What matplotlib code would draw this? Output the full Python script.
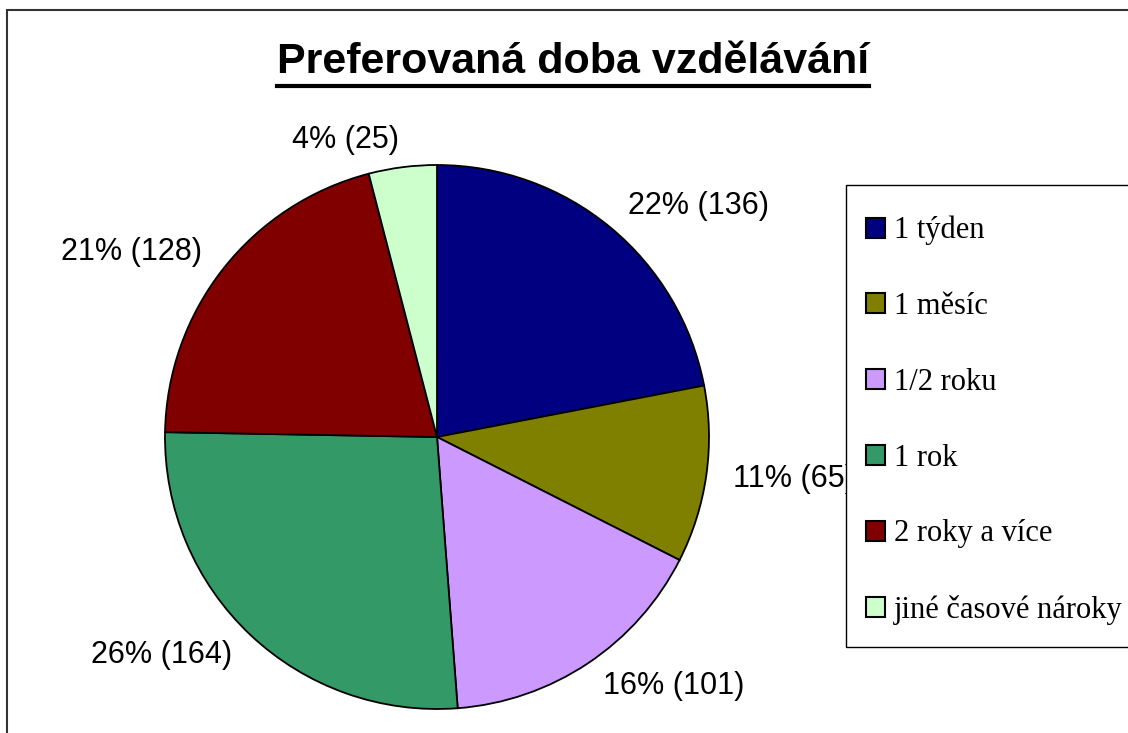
import matplotlib.pyplot as plt
from matplotlib.patches import Rectangle
from matplotlib.lines import Line2D

# Data
categories = ["1 týden", "1 měsíc", "1/2 roku", "1 rok", "2 roky a více", "jiné časové nároky"]
counts = [136, 65, 101, 164, 128, 25]
colors = ["#000080", "#808000", "#CC99FF", "#339966", "#800000", "#CCFFCC"]
title = "Preferovaná doba vzdělávání"

total = sum(counts)
labels = [f"{round(100 * c / total):.0f}% ({c})" for c in counts]

W, H = 1128, 733
fig = plt.figure(figsize=(W / 100, H / 100), dpi=100)
fig.patch.set_facecolor("white")

# outer chart frame (runs off the right and bottom edges)
fig.add_artist(Rectangle((7 / W, -0.05), 1.2, (H - 10) / H + 0.05,
                         transform=fig.transFigure, fill=False,
                         edgecolor="#333333", linewidth=1.5))

# pie axes: center (437, 437), radius 272 px
cx, cy, r = 437, H - 437, 272
ax = fig.add_axes([(cx - r) / W, (cy - r) / H, 2 * r / W, 2 * r / H])
wedges, texts = ax.pie(counts, labels=labels, colors=colors, startangle=90,
                       counterclock=False, labeldistance=1.1,
                       wedgeprops=dict(edgecolor="black", linewidth=1.3),
                       textprops=dict(fontsize=22, family="Liberation Sans",
                                      color="black"))
ax.set_xlim(-1, 1)
ax.set_ylim(-1, 1)
ax.set_aspect("equal")
ax.axis("off")
for t in texts:
    t.set_clip_on(False)

# title with underline
ttl = fig.text(573 / W, 1 - 62 / H, title, ha="center", va="center",
               fontsize=31, fontweight="bold", family="Liberation Sans")
fig.canvas.draw()
bb = ttl.get_window_extent(renderer=fig.canvas.get_renderer())
uy = (H - 86) / H
fig.add_artist(Line2D([bb.x0 / W, bb.x1 / W], [uy, uy], transform=fig.transFigure,
                      color="black", linewidth=3))

# legend box (runs off the right edge)
fig.add_artist(Rectangle((846 / W, (H - 647) / H), 0.5, (647 - 185) / H,
                         transform=fig.transFigure, facecolor="white",
                         edgecolor="black", linewidth=1.0, zorder=0.5))
leg = fig.legend(wedges, categories, loc="upper left",
                 bbox_to_anchor=(846 / W, 1 - 196 / H),
                 prop=dict(family="Liberation Serif", size=22),
                 frameon=False,
                 handlelength=0.62, handleheight=0.62, handletextpad=0.3,
                 labelspacing=1.53, borderpad=0.65, borderaxespad=0)
for h in leg.legend_handles:
    h.set_edgecolor("black")
    h.set_linewidth(1.5)

fig.savefig("out.png", dpi=100)
